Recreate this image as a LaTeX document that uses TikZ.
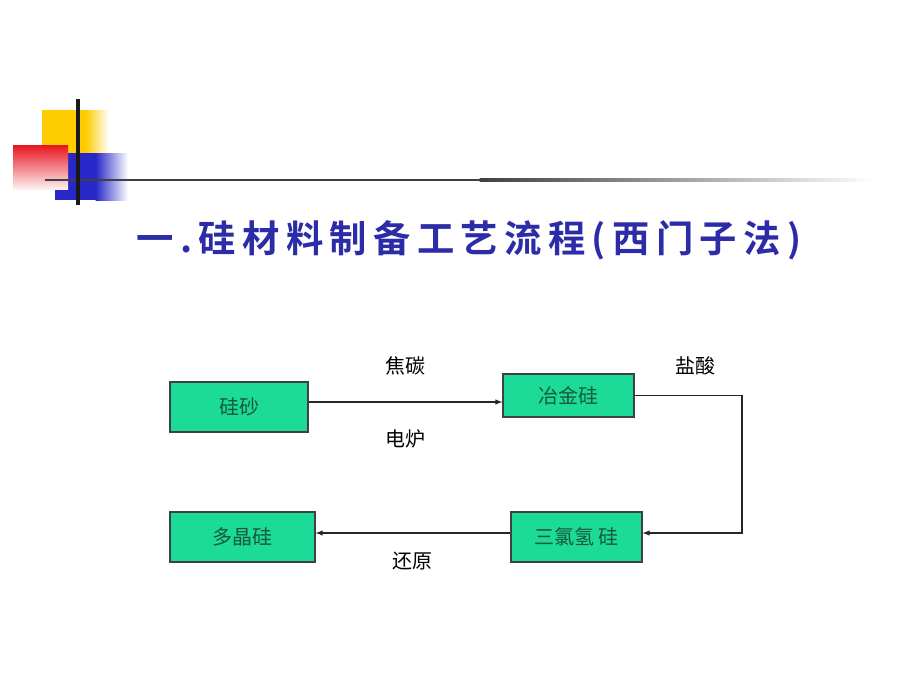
\documentclass[tikz,border=0pt]{standalone}
\usepackage{fontspec}
\newfontfamily\cjk{Noto Sans CJK SC}
\newfontfamily\cjktitle[LetterSpace=17]{Noto Sans CJK SC Bold}
\usetikzlibrary{calc,arrows,positioning}
\definecolor{boxgreen}{RGB}{28,218,152}
\definecolor{boxtext}{RGB}{22,88,58}
\definecolor{titleblue}{RGB}{44,44,168}
\definecolor{logoyellow}{RGB}{255,204,0}
\definecolor{logored}{RGB}{232,20,30}
\definecolor{logoblue}{RGB}{40,40,200}

\begin{document}
\begin{tikzpicture}[x=0.75pt,y=-0.75pt,
    every node/.style={font=\cjk\fontsize{15}{17}\selectfont},
    stage/.style={draw=black!75, fill=boxgreen, line width=0.9pt, text=boxtext, inner sep=0pt},
    flow/.style={draw=black!85, line width=0.8pt, -latex}]
        \useasboundingbox[fill=white] (0,0) rectangle (920,690);

        % logo
        \fill[logoyellow] (42,110) rectangle (86,172);
        \shade[left color=logoyellow, right color=white] (85.5,110) rectangle (109,172);
        \fill[logoblue] (55,153) rectangle (96,200);
        \shade[left color=logoblue, right color=white] (95.5,153) rectangle (128,200);
        \shade[top color=logored, bottom color=logored!6] (13,145) rectangle (68,189);
        \draw[line width=1.6pt, black!75] (45,180) -- (480,180);
        \shade[left color=black!75, right color=white] (479.5,178.9) rectangle (875,181.1);
        \draw[line width=2.4pt, black!90] (78,99) -- (78,205);

        % title
        \node[font=\cjktitle\fontsize{28}{32}\selectfont, text=titleblue] (title) at (469,240) {一.硅材料制备工艺流程(西门子法)};

        % stages
        \node[stage, minimum width=103.5pt, minimum height=37.5pt] (guisha) at (239,407) {硅砂};
        \node[stage, minimum width=98.25pt, minimum height=32.25pt] (yejingui) at (568.5,395.5) {冶金硅};
        \node[stage, minimum width=98.25pt, minimum height=37.5pt] (sanlvqinggui) at (576.5,537) {三氯氢 硅};
        \node[stage, minimum width=108.75pt, minimum height=37.5pt] (duojinggui) at (242.5,537) {多晶硅};
        \coordinate (bend) at (742,533);

        \node (jiaotan) at (405,366) {焦碳};
        \node (dianlu) at (405,439) {电炉};
        \node (yansuan) at (695,366) {盐酸};
        \node (huanyuan) at (412,561) {还原};

        \draw[flow] ([yshift=3.75pt]guisha.east) -- ([yshift=3.75pt]guisha.east -| yejingui.west);
        \draw[flow] (yejingui.east) -| (bend) -- (bend -| sanlvqinggui.east);
        \draw[flow] ([yshift=3pt]sanlvqinggui.west) -- ([yshift=3pt]duojinggui.east);
    \end{tikzpicture}
\end{document}
